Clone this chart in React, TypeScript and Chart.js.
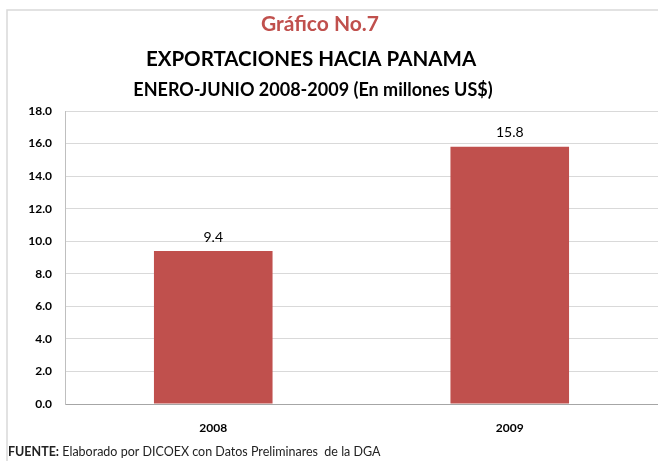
import React, { useEffect, useRef } from "react";
import { Chart, registerables } from "chart.js";

Chart.register(...registerables);

const categories: string[] = ["2008", "2009"];
const exportValues: number[] = [9.4, 15.8];
const titleMain = "Gráfico No.7";
const titleLine2 = "EXPORTACIONES HACIA PANAMA";
const titleLine3 = "ENERO-JUNIO 2008-2009 (En millones US$)";
const sourceBold = "FUENTE:";
const sourceText = " Elaborado por DICOEX con Datos Preliminares  de la DGA";
const yMin = 0;
const yMax = 18;
const yStep = 2;

const FONT = "Lato, 'Open Sans', sans-serif";
const BAR_COLOR = "#c0504d";

const decorPlugin = {
  id: "decor",
  beforeDraw(chart: any) {
    const ctx = chart.ctx;
    ctx.save();
    ctx.fillStyle = "#ffffff";
    ctx.fillRect(0, 0, chart.width, chart.height);
    // frame
    ctx.strokeStyle = "#d9d9d9";
    ctx.lineWidth = 1.5;
    ctx.beginPath();
    ctx.moveTo(7, chart.height);
    ctx.lineTo(7, 10);
    ctx.lineTo(chart.width, 10);
    ctx.stroke();
    // titles
    ctx.textAlign = "center";
    ctx.textBaseline = "middle";
    ctx.fillStyle = "#c0504d";
    ctx.font = `bold 21px ${FONT}`;
    ctx.fillText(titleMain, 320, 24);
    ctx.fillStyle = "#000000";
    ctx.font = `bold 20.5px ${FONT}`;
    ctx.fillText(titleLine2, 311, 59);
    ctx.font = `bold 18px ${FONT}`;
    ctx.fillText(titleLine3, 313, 90);
    // footer
    ctx.textAlign = "left";
    ctx.font = `bold 12.5px ${FONT}`;
    ctx.fillStyle = "#222222";
    ctx.fillText(sourceBold, 8, 452);
    const w = ctx.measureText(sourceBold).width;
    ctx.font = `12.5px ${FONT}`;
    ctx.fillText(sourceText, 8 + w, 452);
    ctx.restore();
  },
  afterDatasetsDraw(chart: any) {
    const ctx = chart.ctx;
    const meta = chart.getDatasetMeta(0);
    ctx.save();
    ctx.font = `14px ${FONT}`;
    ctx.fillStyle = "#000000";
    ctx.textAlign = "center";
    ctx.textBaseline = "bottom";
    meta.data.forEach((bar: any, i: number) => {
      ctx.fillText(exportValues[i].toFixed(1), bar.x, bar.y - 7);
    });
    ctx.restore();
  },
};

export default function App() {
  const canvasRef = useRef<HTMLCanvasElement | null>(null);

  useEffect(() => {
    if (!canvasRef.current) return;
    const chart = new Chart(canvasRef.current, {
      type: "bar",
      data: {
        labels: categories,
        datasets: [
          {
            data: exportValues,
            backgroundColor: BAR_COLOR,
            borderWidth: 0,
            barPercentage: 0.4,
            categoryPercentage: 1,
          },
        ],
      },
      options: {
        responsive: false,
        animation: false,
        layout: { padding: { top: 111, left: 0, right: 0, bottom: 0 } },
        plugins: {
          legend: { display: false },
          title: { display: false },
          tooltip: { enabled: false },
        },
        scales: {
          x: {
            grid: { display: false, drawTicks: false },
            border: { color: "#a6a6a6", width: 1 },
            ticks: {
              padding: 17,
              color: "#000000",
              font: { family: FONT, size: 12, weight: "bold" },
            },
            afterFit(scale: any) {
              scale.height = 57;
            },
          },
          y: {
            min: yMin,
            max: yMax,
            grid: { color: "#d9d9d9", lineWidth: 1, drawTicks: false },
            border: { color: "#bfbfbf", width: 1 },
            ticks: {
              stepSize: yStep,
              padding: 13,
              color: "#000000",
              font: { family: FONT, size: 12, weight: "bold" },
              callback: (v: any) => Number(v).toFixed(1),
            },
            afterFit(scale: any) {
              scale.width = 65;
            },
          },
        },
      },
      plugins: [decorPlugin],
    });
    return () => chart.destroy();
  }, []);

  return (
    <div style={{ position: "absolute", left: 0, top: 0, width: 658, height: 461 }}>
      <canvas ref={canvasRef} width={658} height={461} />
    </div>
  );
}
